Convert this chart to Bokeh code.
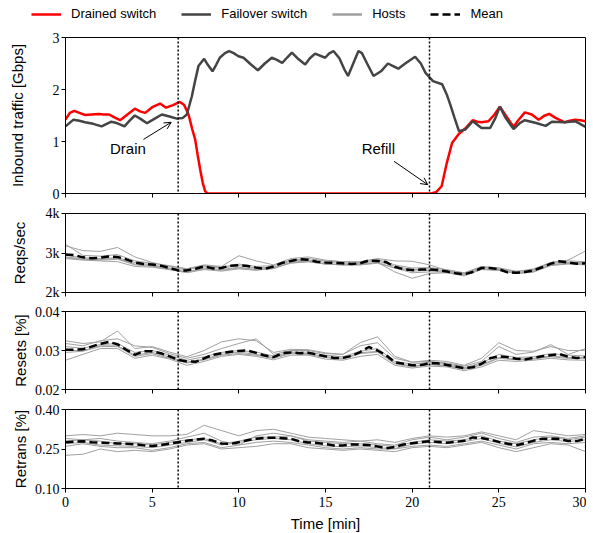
from bokeh.plotting import figure
from bokeh.layouts import column, row
from bokeh.models import (Span, Arrow, OpenHead, Label, Legend, LegendItem,
                          FixedTicker, Range1d)
from bokeh.embed import file_html
from bokeh.resources import INLINE

# ---------------- data ----------------
drained_t = [0, 0.25, 0.5, 0.8, 1.13, 1.5, 1.9, 2.2, 2.5, 2.85, 3.15, 3.5, 4.0, 4.3, 4.6, 5.0,
             5.46, 5.8, 6.2, 6.6, 6.85, 7.1, 7.3, 7.48, 7.62, 7.77, 7.92, 8.06, 8.2, 21.1, 21.4,
             21.7, 22.0, 22.3, 22.7, 23.06, 23.5, 23.75, 24.0, 24.4, 24.75, 25.06, 25.4, 25.85,
             26.1, 26.5, 26.9, 27.3, 27.6, 27.9, 28.3, 28.8, 29.1, 29.4, 29.7, 30]
drained_v = [1.42, 1.55, 1.59, 1.55, 1.51, 1.52, 1.53, 1.52, 1.52, 1.46, 1.41, 1.50, 1.63, 1.58,
             1.55, 1.66, 1.73, 1.65, 1.70, 1.76, 1.70, 1.52, 1.25, 1.04, 0.75, 0.46, 0.20, 0.04,
             0.0, 0.0, 0.03, 0.14, 0.59, 0.97, 1.15, 1.25, 1.41, 1.38, 1.37, 1.39, 1.52, 1.67,
             1.50, 1.28, 1.40, 1.56, 1.52, 1.42, 1.49, 1.53, 1.45, 1.37, 1.40, 1.42, 1.41, 1.39]

failover_t = [0, 0.46, 0.8, 1.13, 1.6, 2.08, 2.65, 3.0, 3.4, 3.7, 4.0, 4.35, 4.7, 5.1, 5.56, 6.0,
              6.42, 6.75, 7.0, 7.29, 7.5, 7.67, 8.0, 8.2, 8.48, 8.7, 8.9, 9.2, 9.44, 9.7, 9.98,
              10.27, 10.7, 11.1, 11.5, 11.9, 12.2, 12.5, 12.8, 13.06, 13.45, 13.83, 14.1, 14.4,
              14.98, 15.2, 15.46, 15.8, 16.1, 16.3, 16.6, 16.9, 17.1, 17.4, 17.77, 18.2, 18.6,
              18.9, 19.2, 19.6, 20.17, 20.5, 20.77, 21.2, 21.73, 22.0, 22.2, 22.45, 22.7, 23.06,
              23.5, 24.0, 24.5, 24.8, 25.06, 25.4, 25.85, 26.2, 26.5, 27.1, 27.7, 28.06, 28.8,
              29.4, 30]
failover_v = [1.29, 1.42, 1.40, 1.37, 1.34, 1.29, 1.38, 1.35, 1.29, 1.40, 1.50, 1.43, 1.35, 1.43,
              1.52, 1.48, 1.44, 1.45, 1.52, 1.87, 2.20, 2.45, 2.59, 2.48, 2.35, 2.48, 2.61, 2.70,
              2.74, 2.70, 2.64, 2.61, 2.48, 2.37, 2.50, 2.61, 2.57, 2.51, 2.62, 2.71, 2.58, 2.48,
              2.60, 2.69, 2.61, 2.69, 2.74, 2.60, 2.38, 2.26, 2.50, 2.74, 2.70, 2.50, 2.26, 2.35,
              2.50, 2.45, 2.40, 2.50, 2.63, 2.50, 2.32, 2.16, 2.10, 1.90, 1.71, 1.45, 1.20, 1.23,
              1.39, 1.26, 1.26, 1.45, 1.67, 1.45, 1.24, 1.35, 1.41, 1.36, 1.30, 1.38, 1.37, 1.39,
              1.28]

mean_t = [i * 0.5 for i in range(61)]
host_t = list(range(31))

reqs_mean = [2.96, 2.95, 2.89, 2.87, 2.88, 2.91, 2.90, 2.84, 2.76, 2.72, 2.71, 2.68, 2.62, 2.56,
             2.56, 2.60, 2.66, 2.61, 2.62, 2.68, 2.69, 2.67, 2.63, 2.60, 2.66, 2.75, 2.80, 2.84,
             2.83, 2.78, 2.76, 2.75, 2.74, 2.72, 2.74, 2.81, 2.80, 2.77, 2.65, 2.59, 2.57, 2.58,
             2.58, 2.57, 2.53, 2.49, 2.46, 2.52, 2.62, 2.62, 2.59, 2.51, 2.50, 2.52, 2.56, 2.64,
             2.73, 2.79, 2.76, 2.73, 2.74]
reqs_hosts = [
    [3.18, 3.06, 3.04, 3.14, 2.90, 2.76, 2.66, 2.60, 2.70, 2.66, 2.93, 2.80, 2.70, 2.86, 2.90, 2.82,
     2.78, 2.76, 2.84, 2.70, 2.62, 2.63, 2.58, 2.50, 2.66, 2.62, 2.54, 2.58, 2.76, 2.82, 3.05],
    [3.22, 2.94, 2.92, 2.96, 2.80, 2.74, 2.68, 2.60, 2.68, 2.64, 2.72, 2.66, 2.68, 2.82, 2.86, 2.80,
     2.78, 2.78, 2.86, 2.80, 2.79, 2.70, 2.56, 2.48, 2.64, 2.62, 2.52, 2.60, 2.76, 2.80, 2.78],
    [2.90, 2.85, 2.84, 2.86, 2.72, 2.68, 2.60, 2.52, 2.62, 2.58, 2.64, 2.58, 2.62, 2.76, 2.80, 2.72,
     2.70, 2.70, 2.76, 2.52, 2.36, 2.48, 2.50, 2.44, 2.60, 2.56, 2.48, 2.52, 2.70, 2.74, 2.72],
    [2.88, 2.84, 2.82, 2.84, 2.70, 2.66, 2.58, 2.52, 2.60, 2.56, 2.62, 2.58, 2.60, 2.76, 2.78, 2.72,
     2.70, 2.72, 2.76, 2.62, 2.54, 2.56, 2.50, 2.42, 2.58, 2.56, 2.48, 2.52, 2.68, 2.72, 2.70],
    [2.86, 2.82, 2.80, 2.78, 2.66, 2.64, 2.58, 2.50, 2.58, 2.54, 2.60, 2.56, 2.62, 2.74, 2.78, 2.72,
     2.70, 2.70, 2.74, 2.62, 2.50, 2.52, 2.52, 2.46, 2.60, 2.58, 2.48, 2.54, 2.70, 2.74, 2.72],
    [2.94, 2.88, 2.86, 2.88, 2.76, 2.70, 2.62, 2.58, 2.66, 2.62, 2.68, 2.62, 2.64, 2.80, 2.82, 2.76,
     2.74, 2.74, 2.80, 2.66, 2.58, 2.60, 2.54, 2.48, 2.64, 2.60, 2.50, 2.56, 2.74, 2.76, 2.76],
]

resets_mean = [0.0302, 0.0302, 0.0303, 0.0310, 0.0317, 0.0322, 0.0316, 0.0302, 0.0289, 0.0298,
               0.0298, 0.0293, 0.0285, 0.0276, 0.0272, 0.0271, 0.0280, 0.0289, 0.0293, 0.0297,
               0.0299, 0.0300, 0.0294, 0.0287, 0.0283, 0.0293, 0.0295, 0.0293, 0.0294, 0.0290,
               0.0285, 0.0281, 0.0281, 0.0286, 0.0296, 0.0309, 0.0300, 0.0288, 0.0270, 0.0266,
               0.0262, 0.0263, 0.0267, 0.0267, 0.0263, 0.0259, 0.0255, 0.0257, 0.0266, 0.0280,
               0.0285, 0.0283, 0.0279, 0.0277, 0.0281, 0.0285, 0.0288, 0.0291, 0.0284, 0.0281,
               0.0283]
resets_hosts = [
    [0.0325, 0.0318, 0.0322, 0.0350, 0.0305, 0.0310, 0.0296, 0.0284, 0.0300, 0.0322, 0.0330,
     0.0325, 0.0295, 0.0303, 0.0302, 0.0294, 0.0290, 0.0320, 0.0335, 0.0285, 0.0270, 0.0275,
     0.0272, 0.0262, 0.0280, 0.0320, 0.0300, 0.0298, 0.0310, 0.0300, 0.0300],
    [0.0318, 0.0312, 0.0325, 0.0330, 0.0312, 0.0308, 0.0292, 0.0280, 0.0290, 0.0305, 0.0318,
     0.0330, 0.0290, 0.0300, 0.0300, 0.0292, 0.0290, 0.0312, 0.0320, 0.0280, 0.0270, 0.0272,
     0.0268, 0.0260, 0.0272, 0.0310, 0.0290, 0.0296, 0.0315, 0.0290, 0.0305],
    [0.0275, 0.0290, 0.0305, 0.0305, 0.0280, 0.0288, 0.0278, 0.0262, 0.0272, 0.0285, 0.0290,
     0.0285, 0.0276, 0.0288, 0.0288, 0.0278, 0.0275, 0.0285, 0.0290, 0.0262, 0.0255, 0.0260,
     0.0258, 0.0248, 0.0258, 0.0275, 0.0272, 0.0275, 0.0280, 0.0276, 0.0275],
    [0.0295, 0.0298, 0.0310, 0.0310, 0.0285, 0.0292, 0.0280, 0.0268, 0.0276, 0.0288, 0.0292,
     0.0288, 0.0280, 0.0292, 0.0290, 0.0282, 0.0278, 0.0292, 0.0296, 0.0266, 0.0258, 0.0264,
     0.0260, 0.0252, 0.0262, 0.0280, 0.0276, 0.0278, 0.0284, 0.0280, 0.0280],
    [0.0300, 0.0300, 0.0312, 0.0312, 0.0288, 0.0295, 0.0283, 0.0270, 0.0278, 0.0290, 0.0296,
     0.0290, 0.0282, 0.0294, 0.0292, 0.0284, 0.0280, 0.0294, 0.0298, 0.0268, 0.0260, 0.0265,
     0.0262, 0.0254, 0.0264, 0.0282, 0.0278, 0.0280, 0.0286, 0.0282, 0.0282],
    [0.0310, 0.0306, 0.0315, 0.0318, 0.0295, 0.0300, 0.0288, 0.0275, 0.0284, 0.0295, 0.0300,
     0.0296, 0.0286, 0.0296, 0.0296, 0.0288, 0.0284, 0.0298, 0.0305, 0.0272, 0.0265, 0.0270,
     0.0266, 0.0256, 0.0268, 0.0290, 0.0282, 0.0284, 0.0292, 0.0288, 0.0286],
]

retrans_mean = [0.276, 0.278, 0.279, 0.276, 0.274, 0.273, 0.271, 0.270, 0.268, 0.264, 0.261,
                0.265, 0.270, 0.276, 0.281, 0.286, 0.289, 0.282, 0.271, 0.269, 0.276, 0.283,
                0.289, 0.292, 0.293, 0.291, 0.289, 0.279, 0.275, 0.273, 0.269, 0.263, 0.263,
                0.267, 0.267, 0.265, 0.260, 0.253, 0.258, 0.267, 0.272, 0.276, 0.279, 0.277,
                0.274, 0.277, 0.281, 0.294, 0.292, 0.285, 0.277, 0.270, 0.264, 0.272, 0.281,
                0.289, 0.289, 0.289, 0.280, 0.280, 0.289]
retrans_hosts = [
    [0.300, 0.305, 0.300, 0.310, 0.305, 0.300, 0.300, 0.305, 0.340, 0.320, 0.300, 0.320, 0.325,
     0.310, 0.295, 0.290, 0.285, 0.280, 0.285, 0.275, 0.290, 0.300, 0.295, 0.300, 0.315, 0.300,
     0.285, 0.320, 0.310, 0.300, 0.305],
    [0.226, 0.230, 0.250, 0.240, 0.245, 0.240, 0.250, 0.265, 0.270, 0.250, 0.255, 0.260, 0.270,
     0.270, 0.255, 0.250, 0.245, 0.250, 0.245, 0.240, 0.255, 0.260, 0.255, 0.265, 0.275, 0.255,
     0.240, 0.255, 0.270, 0.265, 0.240],
    [0.290, 0.285, 0.290, 0.280, 0.275, 0.270, 0.280, 0.295, 0.310, 0.280, 0.265, 0.300, 0.310,
     0.300, 0.285, 0.280, 0.275, 0.280, 0.270, 0.265, 0.285, 0.295, 0.285, 0.295, 0.310, 0.290,
     0.275, 0.295, 0.300, 0.290, 0.300],
    [0.260, 0.270, 0.260, 0.255, 0.255, 0.245, 0.255, 0.270, 0.275, 0.255, 0.265, 0.275, 0.280,
     0.275, 0.265, 0.255, 0.250, 0.255, 0.250, 0.250, 0.260, 0.265, 0.260, 0.270, 0.280, 0.265,
     0.250, 0.270, 0.275, 0.270, 0.275],
    [0.280, 0.285, 0.280, 0.270, 0.270, 0.265, 0.275, 0.285, 0.290, 0.270, 0.280, 0.295, 0.295,
     0.300, 0.280, 0.275, 0.270, 0.270, 0.265, 0.260, 0.275, 0.285, 0.280, 0.285, 0.300, 0.280,
     0.270, 0.285, 0.295, 0.285, 0.295],
    [0.270, 0.275, 0.265, 0.262, 0.260, 0.255, 0.265, 0.275, 0.285, 0.265, 0.275, 0.285, 0.290,
     0.285, 0.270, 0.262, 0.258, 0.262, 0.255, 0.252, 0.268, 0.275, 0.270, 0.278, 0.290, 0.272,
     0.258, 0.275, 0.285, 0.278, 0.285],
]

events = [6.5, 21.0]
x_ticks = [0, 5, 10, 15, 20, 25, 30]
legend_labels = ["Drained switch", "Failover switch", "Hosts", "Mean"]

# ---------------- style ----------------
SANS = "Liberation Sans"
SERIF = "serif"
RED = "#ff0000"
DARK = "#444444"
GRAY = "#a0a0a0"
FW = 520
LEFT = 65

xr = Range1d(0, 30)


def make_fig(fh, yr, yticks, ylabel, standoff, top, bottom, overrides=None, show_x=False):
    p = figure(frame_width=FW, frame_height=fh, x_range=xr, y_range=Range1d(*yr),
               min_border_left=LEFT, min_border_right=1, min_border_top=top,
               min_border_bottom=bottom, toolbar_location=None, output_backend="svg")
    p.outline_line_color = "black"
    p.outline_line_alpha = 1.0
    p.outline_line_width = 1
    p.xgrid.visible = False
    p.ygrid.visible = False
    for ax in (p.xaxis[0], p.yaxis[0]):
        ax.axis_line_color = "black"
        ax.major_tick_line_color = "black"
        ax.major_tick_out = 4
        ax.major_tick_in = 0
        ax.minor_tick_line_color = None
        ax.major_label_text_font = SERIF
        ax.major_label_text_font_size = "14px"
        ax.major_label_text_color = "black"
        ax.major_label_standoff = 2
        ax.axis_label_text_font = SANS
        ax.axis_label_text_font_size = "15px"
        ax.axis_label_text_font_style = "normal"
        ax.axis_label_text_color = "black"
    p.xaxis.ticker = FixedTicker(ticks=x_ticks)
    p.yaxis.ticker = FixedTicker(ticks=yticks)
    if overrides:
        p.yaxis.major_label_overrides = overrides
    p.yaxis.axis_label = ylabel
    p.yaxis.axis_label_standoff = standoff
    if show_x:
        p.xaxis.axis_label = "Time [min]"
        p.xaxis.axis_label_standoff = 5
        p.xaxis.major_label_standoff = 4
    else:
        p.xaxis.major_label_text_font_size = "1px"
        p.xaxis.major_label_text_color = None
        p.xaxis.major_label_standoff = 0
    for e in events:
        p.add_layout(Span(location=e, dimension="height", line_color="black",
                          line_width=1.5, line_dash="2 2"))
    return p


# legend strip (its sample lines lie outside the visible range)
leg = figure(width=FW + LEFT + 1, height=29, x_range=(0, 1), y_range=(0, 1),
             min_border=0, toolbar_location=None, output_backend="svg")
leg.axis.visible = False
leg.grid.visible = False
leg.outline_line_color = None
off_x = [-2, -1]
off_y = [-2, -2]
r_d = leg.line(off_x, off_y, line_color=RED, line_width=2.5)
r_f = leg.line(off_x, off_y, line_color=DARK, line_width=2.5)
r_h = leg.line(off_x, off_y, line_color=GRAY, line_width=2.5)
r_m = leg.line(off_x, off_y, line_color="black", line_width=2.5, line_dash="8 4")
legend = Legend(items=[LegendItem(label=legend_labels[0], renderers=[r_d]),
                       LegendItem(label=legend_labels[1], renderers=[r_f]),
                       LegendItem(label=legend_labels[2], renderers=[r_h]),
                       LegendItem(label=legend_labels[3], renderers=[r_m])],
                orientation="horizontal", location=(31, 8), padding=0, margin=0,
                spacing=25, glyph_width=30, glyph_height=14, label_height=14,
                label_standoff=10, border_line_color=None, background_fill_alpha=0,
                label_text_font=SANS, label_text_font_size="13px",
                label_text_color="black")
leg.add_layout(legend)

# panel 1
p1 = make_fig(156, (0, 3), [0, 1, 2, 3], "Inbound traffic [Gbps]", 24, 8, 10)
p1.line(drained_t, drained_v, line_color=RED, line_width=2.5)
p1.line(failover_t, failover_v, line_color=DARK, line_width=2.5)
p1.add_layout(Arrow(end=OpenHead(size=7, line_width=1, line_color="black"),
                    x_start=4.5, y_start=1.04, x_end=6.1, y_end=1.37,
                    line_width=1, line_color="black"))
p1.add_layout(Arrow(end=OpenHead(size=7, line_width=1, line_color="black"),
                    x_start=18.95, y_start=0.62, x_end=20.9, y_end=0.17,
                    line_width=1, line_color="black"))
p1.add_layout(Label(x=3.6, y=0.86, text="Drain", text_align="center",
                    text_baseline="middle", text_font=SANS, text_font_size="15px",
                    text_color="black"))
p1.add_layout(Label(x=18.05, y=0.86, text="Refill", text_align="center",
                    text_baseline="middle", text_font=SANS, text_font_size="15px",
                    text_color="black"))

# panel 2
p2 = make_fig(79, (2, 4), [2, 3, 4], "Reqs/sec", 15, 10, 10,
              overrides={2: "2k", 3: "3k", 4: "4k"})
for h in reqs_hosts:
    p2.line(host_t, h, line_color=GRAY, line_width=1)
p2.line(mean_t, reqs_mean, line_color="black", line_width=2.5, line_dash="8 4")

# panel 3
p3 = make_fig(78, (0.02, 0.04), [0.02, 0.03, 0.04], "Resets [%]", 3, 9, 10,
              overrides={0.02: "0.02", 0.03: "0.03", 0.04: "0.04"})
for h in resets_hosts:
    p3.line(host_t, h, line_color=GRAY, line_width=1)
p3.line(mean_t, resets_mean, line_color="black", line_width=2.5, line_dash="8 4")

# panel 4
p4 = make_fig(79, (0.10, 0.40), [0.10, 0.25, 0.40], "Retrans [%]", 3, 10, 30,
              overrides={0.1: "0.10", 0.25: "0.25", 0.4: "0.40"}, show_x=True)
for h in retrans_hosts:
    p4.line(host_t, h, line_color=GRAY, line_width=1)
p4.line(mean_t, retrans_mean, line_color="black", line_width=2.5, line_dash="8 4")

layout = column(row(leg), p1, p2, p3, p4, spacing=0)
open("out.html", "w").write(file_html(layout, INLINE))
